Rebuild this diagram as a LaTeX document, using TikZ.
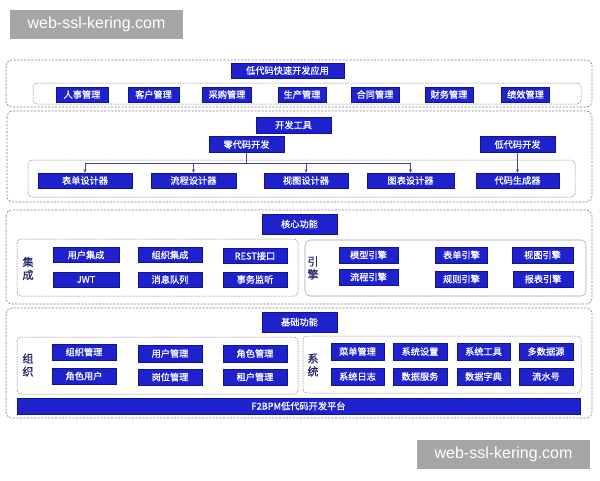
\documentclass[tikz,border=0pt]{standalone}
\usepackage{fontspec}
\newfontfamily\cjk[FakeBold=0.9]{Noto Sans CJK SC}
\newfontfamily\wmfont{Liberation Sans}
\usetikzlibrary{arrows.meta}
\definecolor{boxblue}{RGB}{30,34,204}
\definecolor{boxedge}{RGB}{18,20,140}
\definecolor{panelgray}{RGB}{125,125,140}
\definecolor{labelnavy}{RGB}{35,35,110}
\definecolor{linkblue}{RGB}{70,70,150}
\definecolor{wmgray}{RGB}{166,166,166}

\begin{document}
\begin{tikzpicture}[x=1pt, y=-1pt,
  blk/.style={draw=boxedge, fill=boxblue, text=white, font=\cjk\fontsize{9.2}{10}\selectfont, inner sep=0pt, minimum height=15pt},
  panel/.style={draw=panelgray, line width=0.6pt, dash pattern=on 2pt off 1.5pt, rounded corners=6pt},
  grp/.style={draw=panelgray, line width=0.5pt, dash pattern=on 1.5pt off 1pt, rounded corners=4pt},
  side/.style={text=labelnavy, font=\cjk\fontsize{11}{13}\selectfont, align=center, inner sep=0pt},
  link/.style={draw=linkblue, line width=0.6pt},
  tip/.style={-{Stealth[length=3.5pt, width=3pt]}},
  wm/.style={fill=wmgray, text=white, font=\wmfont\fontsize{16}{18}\selectfont, inner sep=0pt, minimum width=173pt, minimum height=29pt}]
\fill[white] (0,0) rectangle (600,480);
\useasboundingbox (0,0) rectangle (600,480);

\draw[panel] (6,60) rectangle (592,107);
\draw[grp] (33,83) rectangle (581,104);
\node[blk, minimum width=113pt] (app) at (287.5,70.5) {低代码快速开发应用};
\node[blk, minimum width=52pt] (hr) at (82,94.5) {人事管理};
\node[blk, minimum width=51pt] (crm) at (153.5,94.5) {客户管理};
\node[blk, minimum width=49pt] (buy) at (227,94.5) {采购管理};
\node[blk, minimum width=48pt] (prod) at (302,94.5) {生产管理};
\node[blk, minimum width=48pt] (deal) at (375,94.5) {合同管理};
\node[blk, minimum width=48pt] (fin) at (449,94.5) {财务管理};
\node[blk, minimum width=48pt] (kpi) at (525.5,94.5) {绩效管理};

\draw[panel] (7,111) rectangle (592,202);
\draw[grp] (28,160) rectangle (575,197);
\node[blk, minimum width=75pt, minimum height=16pt] (tools) at (293.5,125) {开发工具};
\node[blk, minimum width=75pt, minimum height=16pt] (zero) at (246.5,144.5) {零代码开发};
\node[blk, minimum width=75pt, minimum height=16pt] (low) at (517.5,144.5) {低代码开发};
\node[blk, minimum width=94pt] (form) at (85,180.5) {表单设计器};
\node[blk, minimum width=85pt] (flow) at (193.5,180.5) {流程设计器};
\node[blk, minimum width=84pt] (view) at (306,180.5) {视图设计器};
\node[blk, minimum width=87pt] (chart) at (410.5,180.5) {图表设计器};
\node[blk, minimum width=83pt] (gen) at (517.5,180.5) {代码生成器};
\coordinate (fork) at (246.5,163);
\draw[link] (zero) -- (fork);
\draw[link] (fork -| form) -- (fork -| chart);
\foreach \n in {form,flow,view,chart}
  \draw[link, tip] (fork -| \n) -- (\n);
\draw[link, tip] (low) -- (gen);

\draw[panel] (6,210) rectangle (592,304);
\draw[grp] (17,239) rectangle (298,296);
\draw[draw=panelgray!70, line width=0.6pt, rounded corners=5pt] (305,240) rectangle (586,296);
\node[blk, minimum width=75pt, minimum height=20pt] (core) at (299.5,224) {核心功能};
\node[side] (integ) at (28,268.5) {集\\成};
\node[blk, minimum width=66pt] (usrint) at (86,255) {用户集成};
\node[blk, minimum width=64pt] (orgint) at (170,255) {组织集成};
\node[blk, minimum width=64pt] (rest) at (255,256) {REST接口};
\node[blk, minimum width=66pt] (jwt) at (86,279.5) {JWT};
\node[blk, minimum width=64pt] (mq) at (170,279.5) {消息队列};
\node[blk, minimum width=64pt] (txn) at (255,279.5) {事务监听};
\node[side] (engine) at (313,268) {引\\擎};
\node[blk, minimum width=59pt, minimum height=16pt] (model) at (368.5,255) {模型引擎};
\node[blk, minimum width=59pt, minimum height=16pt] (flowen) at (368.5,277) {流程引擎};
\node[blk, minimum width=52pt, minimum height=16pt] (formen) at (461.5,255) {表单引擎};
\node[blk, minimum width=52pt, minimum height=16pt] (rule) at (461.5,279) {规则引擎};
\node[blk, minimum width=61pt, minimum height=16pt] (viewen) at (542.5,255) {视图引擎};
\node[blk, minimum width=60pt, minimum height=16pt] (report) at (543,279) {报表引擎};

\draw[panel] (6,308) rectangle (592,418);
\draw[grp] (17,337) rectangle (298,394);
\draw[grp] (303,336) rectangle (581,393);
\node[blk, minimum width=75pt, minimum height=20pt] (base) at (299.5,322) {基础功能};
\node[side] (org) at (28,365) {组\\织};
\node[blk, minimum width=64pt, minimum height=16pt] (orgmgr) at (84,352) {组织管理};
\node[blk, minimum width=64pt, minimum height=17pt] (usrmgr) at (170,353.5) {用户管理};
\node[blk, minimum width=64pt, minimum height=17pt] (rolemgr) at (255,353.5) {角色管理};
\node[blk, minimum width=64pt, minimum height=16pt] (roleusr) at (84,376) {角色用户};
\node[blk, minimum width=64pt, minimum height=16pt] (post) at (170,377) {岗位管理};
\node[blk, minimum width=64pt, minimum height=16pt] (tenant) at (255,377) {租户管理};
\node[side] (sys) at (313,365) {系\\统};
\node[blk, minimum width=53pt, minimum height=17pt] (menu) at (357.5,351.5) {菜单管理};
\node[blk, minimum width=54pt, minimum height=17pt] (setting) at (420,351.5) {系统设置};
\node[blk, minimum width=53pt, minimum height=17pt] (systool) at (483.5,351.5) {系统工具};
\node[blk, minimum width=54pt, minimum height=17pt] (multids) at (546,351.5) {多数据源};
\node[blk, minimum width=53pt, minimum height=17pt] (syslog) at (357.5,376.5) {系统日志};
\node[blk, minimum width=54pt, minimum height=17pt] (datasvc) at (420,376.5) {数据服务};
\node[blk, minimum width=53pt, minimum height=17pt] (dict) at (483.5,376.5) {数据字典};
\node[blk, minimum width=54pt, minimum height=17pt] (serial) at (546,376.5) {流水号};
\node[blk, minimum width=563pt, minimum height=16pt] (platform) at (298.5,406) {F2BPM低代码开发平台};

\node[wm] (marktop) at (96.5,24.5) {web-ssl-kering.com};
\node[wm] (markbot) at (503.5,454.5) {web-ssl-kering.com};
\end{tikzpicture}
\end{document}
